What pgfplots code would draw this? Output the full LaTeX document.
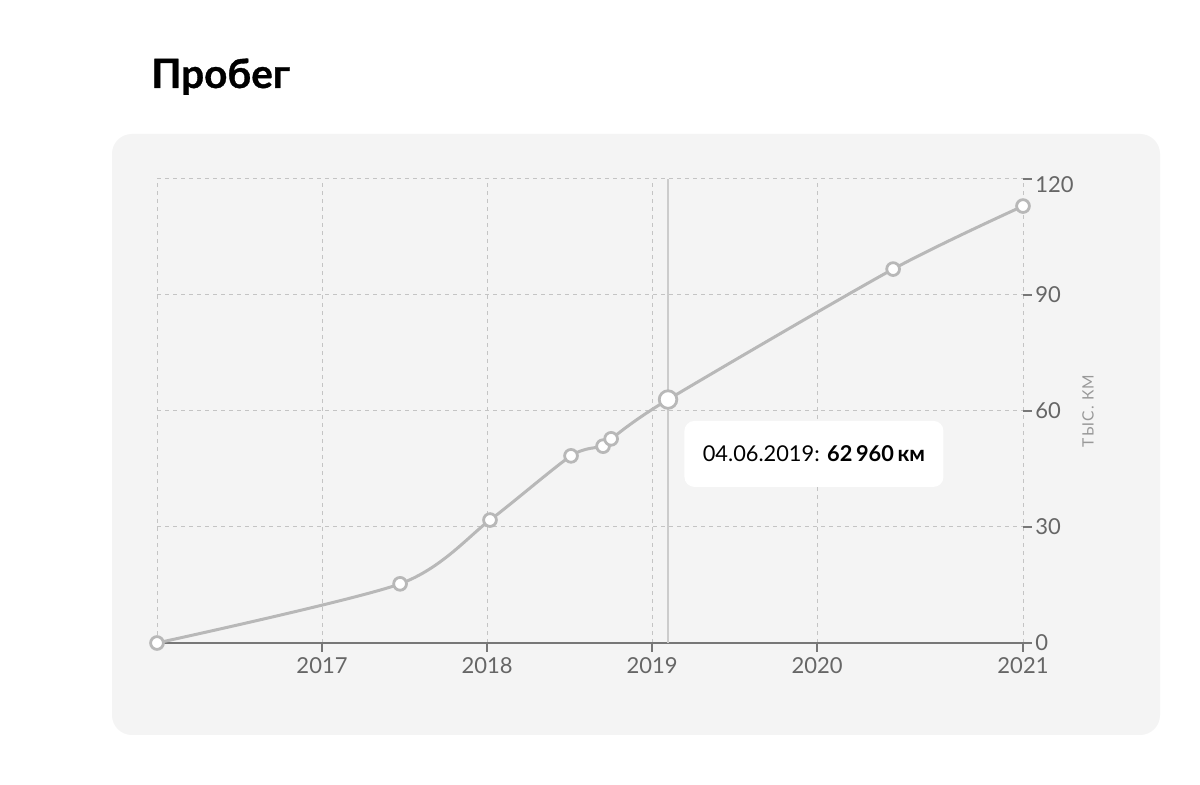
\documentclass[border=0pt]{standalone}
\usepackage{pgfplots}
\pgfplotsset{compat=1.18}
\usepackage{fontspec}
\setmainfont{Lato}
\newfontfamily\labfont[LetterSpace=8]{Lato}
\newfontfamily\titlefont[FakeBold=0.8]{Lato Bold}
\definecolor{panel}{HTML}{F4F4F4}
\definecolor{ticktext}{HTML}{666666}
\definecolor{axisline}{HTML}{777777}
\definecolor{gridc}{HTML}{C4C4C4}
\definecolor{curve}{HTML}{B8B8B8}
\definecolor{vline}{HTML}{CCCCCC}
\definecolor{ylab}{HTML}{999999}
\begin{document}
\begin{tikzpicture}
% canvas 1200x785 px at 0.5pt/px
\fill[white] (0pt,0pt) rectangle (600pt,392.5pt);
\fill[panel, rounded corners=10pt] (56pt,25pt) rectangle (580pt,325.5pt);
\node[anchor=base west, inner sep=0pt, font=\titlefont\fontsize{20.2pt}{24pt}\selectfont] at (75.5pt,348.5pt) {Пробег};
\begin{axis}[
  at={(78.5pt,71pt)}, anchor=south west,
  scale only axis, width=433pt, height=232pt,
  xmin=2016, xmax=2021.248, ymin=0, ymax=120,
  xtick={2017,2018,2019,2020,2021.248},
  xticklabels={2017,2018,2019,2020,2021},
  extra x ticks={2016}, extra x tick labels={},
  extra x tick style={major tick length=0pt, grid=major},
  ytick={0,30,60,90},
  extra y ticks={120},
  extra y tick style={grid=major, yticklabel style={yshift=-3pt}},
  axis x line=bottom, axis y line=right,
  x axis line style={-, draw=axisline, line width=0.6pt},
  y axis line style={draw=none},
  tick align=outside, major tick length=4.5pt,
  tick style={draw=axisline, line width=0.6pt},
  grid=major,
  major grid style={gridc, line width=0.5pt, dash pattern=on 2pt off 2pt},
  tick label style={font=\fontsize{11pt}{13pt}\selectfont, text=ticktext},
  xticklabel style={inner sep=1pt, yshift=-1.5pt},
  yticklabel style={inner sep=1pt, xshift=0.5pt},
  /pgf/number format/assume math mode=true,
  clip=false,
]
% highlighted date line
\draw[vline, line width=0.7pt] (axis cs:2019.097,0) -- (axis cs:2019.097,120);
\addplot[curve, line width=1.5pt, smooth, tension=0.45,
  mark=*, mark size=3.2pt,
  mark options={fill=white, draw=curve, line width=1.4pt}]
  coordinates {
  (2016.000,0)
  (2017.473,15.3)
  (2018.018,31.8)
  (2018.509,48.4)
  (2018.703,50.9)
  (2018.752,52.8)
  (2019.097,62.96)
  (2020.461,96.7)
  (2021.248,113.0)
  };
\addplot[only marks, mark=*, mark size=4.4pt,
  mark options={fill=white, draw=curve, line width=1.4pt}]
  coordinates {(2019.097,62.96)};
\node[fill=white, rounded corners=5pt, minimum width=129.5pt, minimum height=33pt,
  anchor=west, inner sep=0pt, font=\fontsize{10.9pt}{12pt}\selectfont]
  at (axis cs:2019.194,48.9) {04.06.2019: \textbf{62\,960\,км}};
\node[rotate=90, font=\labfont\fontsize{7.8pt}{9pt}\selectfont, text=ylab]
  at ([xshift=32.5pt]axis cs:2021.248,60) {ТЫС. КМ};
\end{axis}
\end{tikzpicture}
\end{document}
